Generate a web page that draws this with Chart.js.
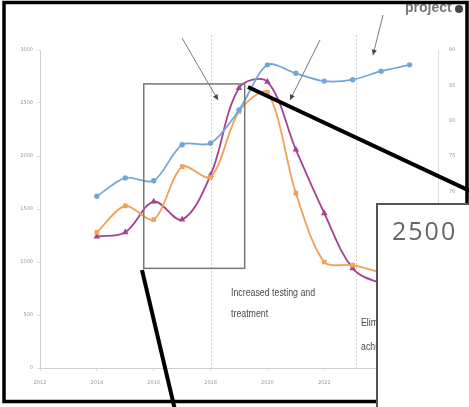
<!DOCTYPE html>
<html>
<head>
<meta charset="utf-8">
<script src="https://cdn.jsdelivr.net/npm/chart.js@4/dist/chart.umd.min.js"></script>
<style>
html, body { margin: 0; padding: 0; background: #fff; }
#wrap { position: relative; width: 469px; height: 407px; overflow: hidden; }
#chart { position: absolute; left: 0; top: 0; }
</style>
</head>
<body>
<div id="wrap"><canvas id="chart" width="469" height="407"></canvas></div>
<script>
// --- 데이터 ---
const years = [2014, 2015, 2016, 2017, 2018, 2019, 2020, 2021, 2022, 2023, 2024, 2025];
const bluePct = [69.3, 71.9, 71.5, 76.6, 76.8, 81.5, 87.9, 86.7, 85.6, 85.8, 87.0, 87.9]; // 오른쪽 축
const orangeVals = [1280, 1530, 1400, 1900, 1800, 2420, 2600, 1650, 1000, 970, 900, 830];
const purpleVals = [1240, 1280, 1570, 1400, 1820, 2640, 2700, 2060, 1460, 940, 800, 760];

const leftTicks = [0, 500, 1000, 1500, 2000, 2500, 3000];
const rightTicks = [45, 50, 55, 60, 65, 70, 75, 80, 85, 90];
const xTicks = [2012, 2014, 2016, 2018, 2020, 2022, 2024, 2026];
const phaseLines = [2018, 2023.1];     // 점선 구분선
const calloutBox = { x0: 2015.65, x1: 2019.2, y0: 940, y1: 2680 }; // 확대 표시 상자

const pts = vals => years.map((y, i) => ({ x: y, y: vals[i] }));

// --- 그림 위 덧그림 ---
function arrow(ctx, x1, y1, x2, y2) {
    ctx.strokeStyle = '#7a7a7a';
    ctx.lineWidth = 1;
    ctx.beginPath(); ctx.moveTo(x1, y1); ctx.lineTo(x2, y2); ctx.stroke();
    const a = Math.atan2(y2 - y1, x2 - x1);
    ctx.fillStyle = '#444';
    ctx.beginPath();
    ctx.moveTo(x2, y2);
    ctx.lineTo(x2 - 6 * Math.cos(a - 0.45), y2 - 6 * Math.sin(a - 0.45));
    ctx.lineTo(x2 - 6 * Math.cos(a + 0.45), y2 - 6 * Math.sin(a + 0.45));
    ctx.closePath(); ctx.fill();
}

// 좁은 글꼴 흉내 (가로로 살짝 줄임)
function narrowText(ctx, text, x, y, sx) {
    ctx.save();
    ctx.translate(x, y);
    ctx.scale(sx, 1);
    ctx.fillText(text, 0, 0);
    ctx.restore();
}

const overlay = {
    id: 'overlay',
    beforeDatasetsDraw(chart) {
        const { ctx, scales: { x }, chartArea } = chart;
        ctx.save();
        ctx.strokeStyle = '#d0d0d0';
        ctx.lineWidth = 1;
        ctx.setLineDash([2, 2]);
        phaseLines.forEach(v => {
            const px = Math.round(x.getPixelForValue(v)) + 0.5;
            ctx.beginPath(); ctx.moveTo(px, chartArea.top - 15); ctx.lineTo(px, chartArea.bottom); ctx.stroke();
        });
        ctx.restore();
    },
    afterDraw(chart) {
        const { ctx, scales: { x, y } } = chart;
        ctx.save();

        // 확대 상자
        const bx0 = x.getPixelForValue(calloutBox.x0), bx1 = x.getPixelForValue(calloutBox.x1);
        const by0 = y.getPixelForValue(calloutBox.y1), by1 = y.getPixelForValue(calloutBox.y0);
        ctx.strokeStyle = '#777';
        ctx.lineWidth = 1.5;
        ctx.strokeRect(bx0, by0, bx1 - bx0, by1 - by0);

        // 화살표
        arrow(ctx, 182, 38, 218, 100);
        arrow(ctx, 320, 40, 290, 100);
        arrow(ctx, 383, 15, 373, 55);

        // 설명 글
        ctx.fillStyle = '#4a4a4a';
        ctx.font = "10px 'Liberation Sans', sans-serif";
        ctx.textBaseline = 'middle';
        narrowText(ctx, 'Increased testing and', 231, 293, 0.88);
        narrowText(ctx, 'treatment', 231, 314, 0.88);
        narrowText(ctx, 'Elimination', 361, 323, 0.88);
        narrowText(ctx, 'achieved', 361, 347, 0.88);

        ctx.fillStyle = '#777';
        ctx.font = "bold 14px 'Liberation Sans', sans-serif";
        ctx.textBaseline = 'alphabetic';
        ctx.fillText('project', 405, 12);
        ctx.fillStyle = '#444';
        ctx.beginPath(); ctx.arc(459, 9, 4, 0, Math.PI * 2); ctx.fill();

        // 바깥 테두리
        ctx.strokeStyle = '#000';
        ctx.lineWidth = 3.5;
        ctx.strokeRect(4, 2.5, 463, 399);

        // 굵은 연결선
        ctx.lineWidth = 4;
        ctx.beginPath(); ctx.moveTo(248, 87); ctx.lineTo(470, 191); ctx.stroke();
        ctx.beginPath(); ctx.moveTo(142, 270); ctx.lineTo(175, 410); ctx.stroke();

        // 오른쪽 아래 확대 창
        ctx.fillStyle = '#fff';
        ctx.fillRect(376, 203, 100, 210);
        ctx.strokeStyle = '#555';
        ctx.lineWidth = 2;
        ctx.beginPath(); ctx.moveTo(377, 410); ctx.lineTo(377, 204); ctx.lineTo(470, 204); ctx.stroke();
        ctx.fillStyle = '#666';
        ctx.font = "25px 'Open Sans', sans-serif";
        ctx.letterSpacing = '2px';
        ctx.textBaseline = 'middle';
        ctx.fillText('2500', 392, 233);
        ctx.restore();
    }
};

const tickFont = { size: 5, family: 'DejaVu Sans' };

new Chart(document.getElementById('chart'), {
    type: 'line',
    data: {
        datasets: [
            {
                label: 'Blue', data: pts(bluePct), yAxisID: 'y1',
                borderColor: '#72a7d8', backgroundColor: '#72a7d8',
                borderWidth: 1.8, pointRadius: 1.8, pointStyle: 'circle', tension: 0.3
            },
            {
                label: 'Orange', data: pts(orangeVals), yAxisID: 'y',
                borderColor: '#f0a257', backgroundColor: '#f0a257',
                borderWidth: 1.8, pointRadius: 2, pointStyle: 'rect', tension: 0.3
            },
            {
                label: 'Purple', data: pts(purpleVals), yAxisID: 'y',
                borderColor: '#a4428f', backgroundColor: '#a4428f',
                borderWidth: 1.8, pointRadius: 2, pointStyle: 'triangle', tension: 0.35
            }
        ]
    },
    options: {
        responsive: false,
        animation: false,
        layout: { padding: { top: 50, left: 8, right: 10, bottom: 10 } },
        plugins: { legend: { display: false }, tooltip: { enabled: false } },
        scales: {
            x: {
                type: 'linear', min: 2012, max: 2026,
                afterBuildTicks: s => { s.ticks = xTicks.map(v => ({ value: v })); },
                ticks: { font: tickFont, color: '#999', padding: 9, maxRotation: 0,
                         callback: v => (v <= 2022 ? String(v) : '') },
                grid: { display: true, drawOnChartArea: false, tickLength: 3, color: '#ddd' },
                border: { color: '#d0d0d0' },
                afterFit: s => { s.height = 29; }
            },
            y: {
                position: 'left', min: 0, max: 3000,
                afterBuildTicks: s => { s.ticks = leftTicks.map(v => ({ value: v })); },
                ticks: { font: tickFont, color: '#999', padding: 4, callback: v => String(v) },
                grid: { display: true, drawOnChartArea: false, tickLength: 3, color: '#ddd' },
                border: { color: '#d0d0d0' },
                afterFit: s => { s.width = 32; }
            },
            y1: {
                position: 'right', min: 45, max: 90,
                afterBuildTicks: s => { s.ticks = rightTicks.map(v => ({ value: v })); },
                ticks: { font: tickFont, color: '#999', padding: 3, callback: v => String(v) },
                grid: { display: false },
                border: { color: '#ddd', dash: [2, 2] },
                afterFit: s => { s.width = 21; }
            }
        }
    },
    plugins: [overlay]
});
</script>
</body>
</html>
